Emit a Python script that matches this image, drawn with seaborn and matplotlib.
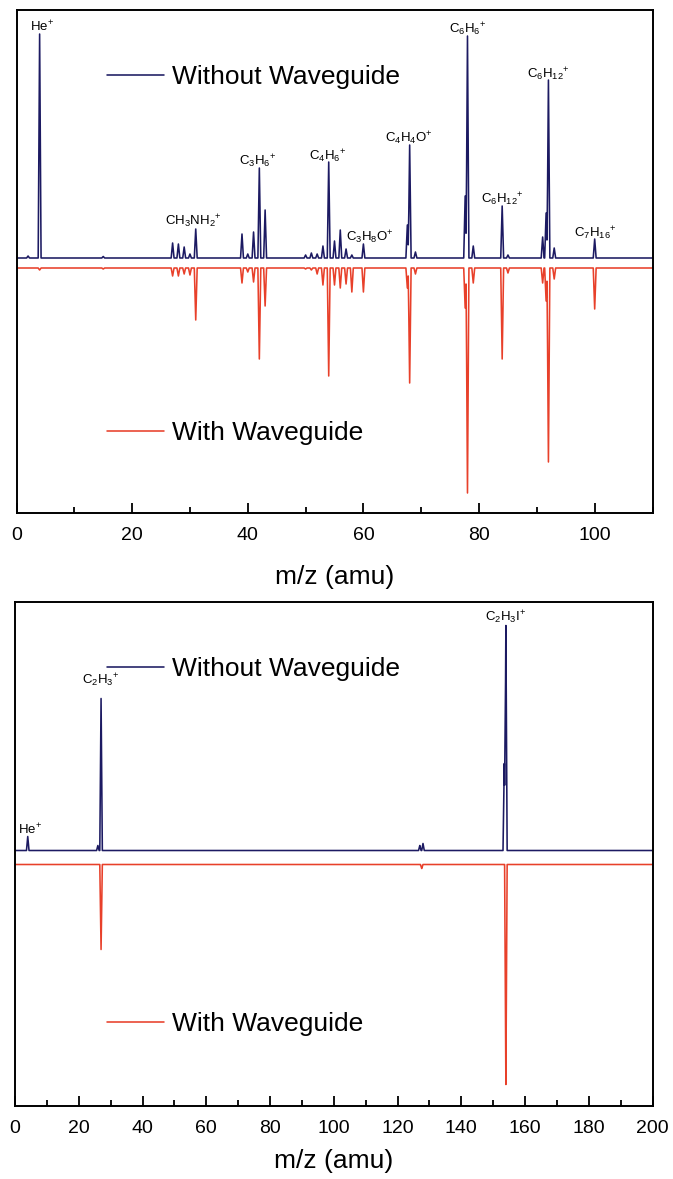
import numpy as np
import pandas as pd
import matplotlib
matplotlib.use("Agg")
import matplotlib.pyplot as plt
from matplotlib.ticker import MultipleLocator
import seaborn as sns

# ---------------- data: panel A (m/z 0-110) ----------------
a_mz = [2, 4, 15, 27, 28, 29, 30, 31, 39, 40, 41, 42, 43, 50, 51, 52, 53, 54, 55,
        56, 57, 58, 60, 67.6, 68, 69, 77.6, 78, 79, 84, 85, 91, 91.6, 92, 93, 100]
a_without = [2, 224, 1.5, 15, 14, 11, 4, 29, 24, 4, 26, 90, 48, 3, 5, 4, 12, 96, 17,
             28, 9, 3, 14, 33, 113, 6, 62, 222, 12, 52, 3, 21, 45, 178, 10, 19]
a_with = [0, 2, 1, 8, 8, 6, 7, 52, 15, 4, 14, 91, 38, 1, 2, 6, 17, 108, 17,
          20, 16, 24, 24, 20, 115, 6, 40, 225, 15, 91, 5, 15, 33, 194, 11, 41]
a_label_mz = [4, 31, 42, 54, 60, 68, 78, 84, 92, 100]
a_labels = ["He$^{+}$", "CH$_3$NH$_2$$^{+}$", "C$_3$H$_6$$^{+}$", "C$_4$H$_6$$^{+}$",
            "C$_3$H$_8$O$^{+}$", "C$_4$H$_4$O$^{+}$", "C$_6$H$_6$$^{+}$",
            "C$_6$H$_{12}$$^{+}$", "C$_6$H$_{12}$$^{+}$", "C$_7$H$_{16}$$^{+}$"]

# ---------------- data: panel B (m/z 0-200) ----------------
b_mz = [4, 26, 27, 127, 127.6, 128, 153.5, 154]
b_without = [14, 5, 152, 5, 0, 7, 87, 225]
b_with = [0, 0, 85, 0, 4, 0, 0, 220]
b_label_mz = [4, 27, 154]
b_labels = ["He$^{+}$", "C$_2$H$_3$$^{+}$", "C$_2$H$_3$I$^{+}$"]

series_names = ["Without Waveguide", "With Waveguide"]
BLUE = "#1c1a62"
RED = "#e8402a"

sns.set_style("white")
plt.rcParams["font.family"] = ["Liberation Sans", "DejaVu Sans"]
plt.rcParams["mathtext.fontset"] = "custom"
plt.rcParams["mathtext.rm"] = "Liberation Sans"
plt.rcParams["mathtext.it"] = "Liberation Sans:italic"
plt.rcParams["mathtext.bf"] = "Liberation Sans:bold"
plt.rcParams["mathtext.default"] = "regular"
plt.rcParams["text.color"] = "black"
plt.rcParams["axes.labelcolor"] = "black"
plt.rcParams["xtick.color"] = "black"
plt.rcParams["xtick.labelcolor"] = "black"


def trace(mz, height, hw, xmax):
    mz = np.asarray(mz, float)
    h = np.asarray(height, float)
    xs = np.unique(np.concatenate([[0.0, xmax], mz - hw, mz, mz + hw]))
    ys = np.clip(1 - np.abs(xs[:, None] - mz[None, :]) / hw, 0, None) @ h
    return xs, ys


def panel(ax, mz, without, with_, hw, xmax, red_off, ylim, labels, label_mz,
          label_dx, label_dy, leg_x, leg_y_blue, leg_y_red, xlabelpad):
    x1, y1 = trace(mz, without, hw, xmax)
    x2, y2 = trace(mz, with_, hw, xmax)
    df = pd.concat([
        pd.DataFrame({"mz": x1, "signal": y1, "series": series_names[0]}),
        pd.DataFrame({"mz": x2, "signal": red_off - y2, "series": series_names[1]}),
    ])
    sns.lineplot(data=df, x="mz", y="signal", hue="series",
                 palette={series_names[0]: BLUE, series_names[1]: RED},
                 estimator=None, errorbar=None, lw=1.15, ax=ax, legend=False)
    ax.set_xlim(0, xmax)
    ax.set_ylim(*ylim)
    ax.set_yticks([])
    ax.set_ylabel("")
    ax.set_xlabel("m/z (amu)", fontsize=19, labelpad=xlabelpad)
    ax.xaxis.set_major_locator(MultipleLocator(20))
    ax.xaxis.set_minor_locator(MultipleLocator(10))
    ax.tick_params(axis="x", which="major", direction="in", length=7, width=1.3,
                   labelsize=14, pad=10, bottom=True, top=False)
    ax.tick_params(axis="x", which="minor", direction="in", length=4, width=1.3,
                   bottom=True, top=False)
    for s in ax.spines.values():
        s.set_visible(True)
        s.set_linewidth(1.4)
        s.set_color("black")

    peak = dict(zip(mz, without))
    for lab, m, dx, dy in zip(labels, label_mz, label_dx, label_dy):
        ax.annotate(lab, xy=(m, peak[m]), xytext=(dx, dy), textcoords="offset pixels",
                    ha="center", va="center", fontsize=9.5)

    h_blue, h_red = ax.lines[0], ax.lines[1]
    kw = dict(frameon=False, borderpad=0, borderaxespad=0, handlelength=2.15,
              handletextpad=0.3, fontsize=19, loc="center left")
    leg1 = ax.legend([h_blue], [series_names[0]], bbox_to_anchor=(leg_x, leg_y_blue), **kw)
    ax.add_artist(leg1)
    ax.legend([h_red], [series_names[1]], bbox_to_anchor=(leg_x, leg_y_red), **kw)


fig = plt.figure(figsize=(6.73, 11.79), dpi=100)
W, H = 673.0, 1179.0

ax1 = fig.add_axes([16.5 / W, 1 - 513 / H, 636 / W, 503 / H])
panel(ax1, a_mz, a_without, a_with, 0.25, 110, -10, (-255, 248),
      a_labels, a_label_mz,
      [2, -2, -2, -1, 6, -1, 0, 0, 0, 1], [7, 8, 7, 6, 7, 7, 7, 7, 6, 6],
      0.1423, 0.8668, 0.159, 15)

ax2 = fig.add_axes([15 / W, 1 - 1106 / H, 637.5 / W, 504 / H])
panel(ax2, b_mz, b_without, b_with, 0.4, 200, -14, (-255.5, 248.5),
      b_labels, b_label_mz, [2, 0, 0], [7, 18, 8],
      0.1443, 0.867, 0.1627, 9)

fig.savefig("out.png", dpi=100)
